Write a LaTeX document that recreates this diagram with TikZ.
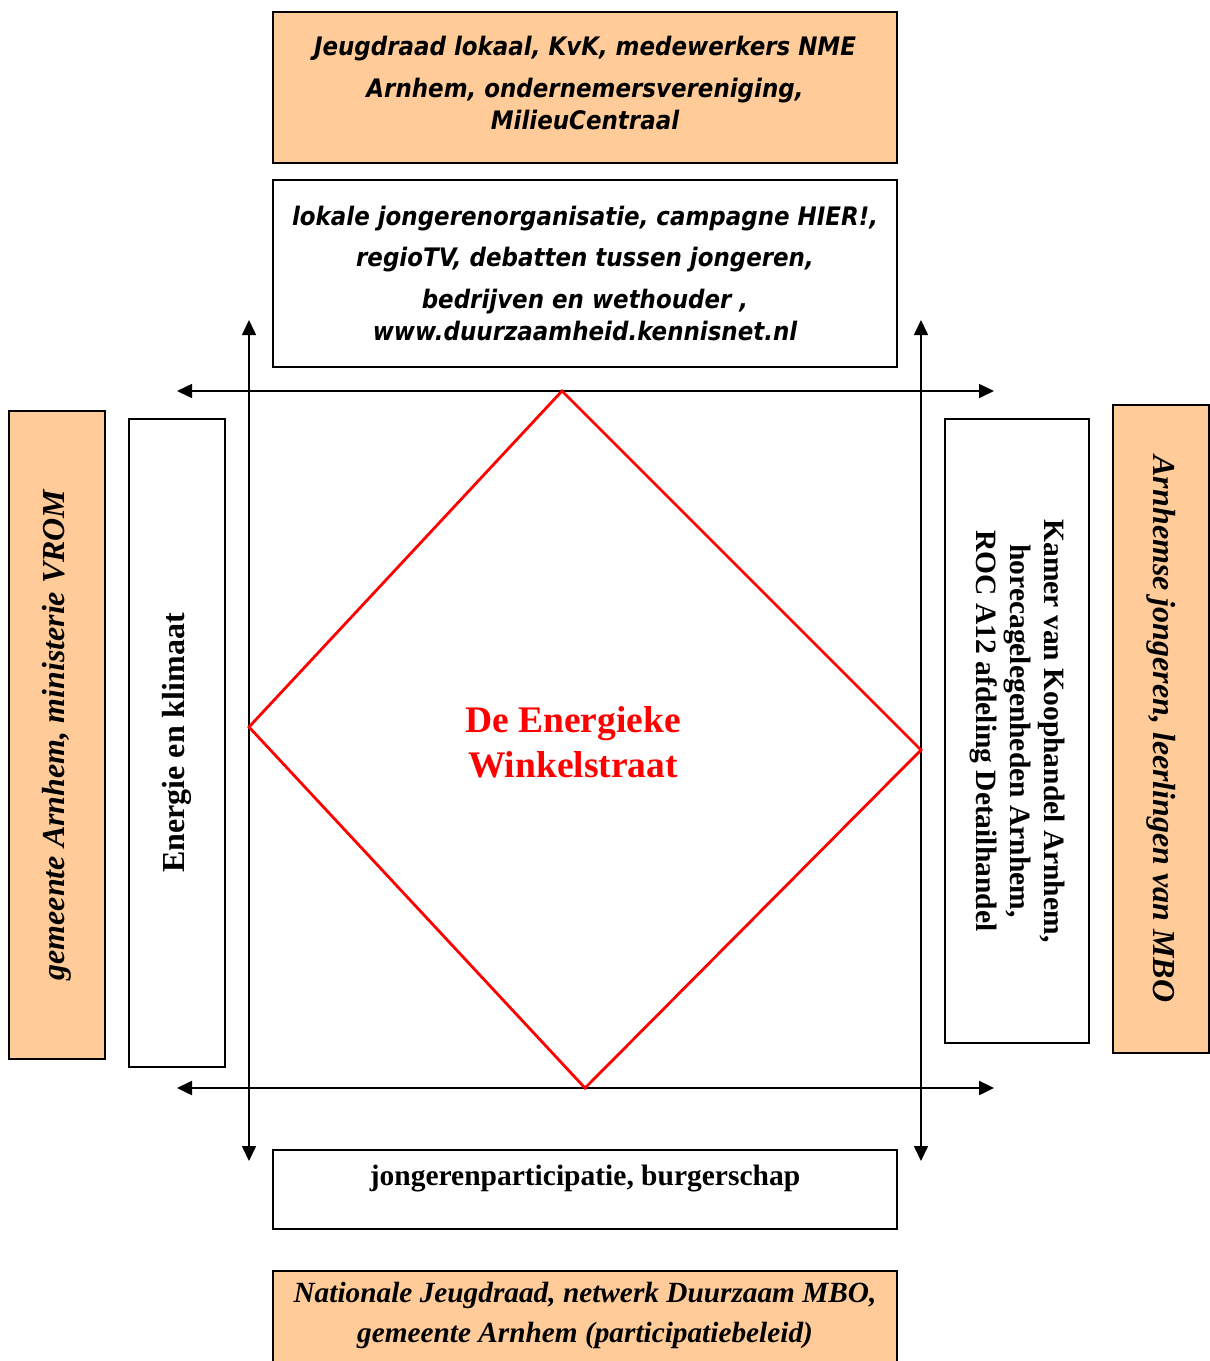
\documentclass[tikz,border=0pt]{standalone}
\usepackage{fontspec}
\setmainfont{Liberation Serif}
\newfontfamily\tahomafont[FakeStretch=0.9]{DejaVu Sans}
\usetikzlibrary{arrows.meta}
\definecolor{peach}{HTML}{FFCC99}
\definecolor{energyred}{HTML}{FF0000}

\begin{document}
\begin{tikzpicture}[x=1pt,y=-1pt,
  orangebox/.style={draw, line width=1.5pt, fill=peach, inner sep=0pt},
  whitebox/.style={draw, line width=1.5pt, fill=white, inner sep=0pt},
  axis/.style={line width=1.6pt, {Triangle[length=15pt,width=14pt]}-{Triangle[length=15pt,width=14pt]}},
  sanstext/.style={font=\tahomafont\bfseries\itshape\fontsize{25.5}{32}\selectfont, align=center},
  seriftext/.style={font=\bfseries\fontsize{29.5}{34}\selectfont, align=center},
  serifital/.style={font=\bfseries\itshape\fontsize{32}{40}\selectfont, align=center}]
\useasboundingbox (0,0) rectangle (1210,1361);

% outer partners
\node[orangebox, minimum width=624, minimum height=151, sanstext, text depth=9pt] (partnerstop) at (585,87.5)
  {Jeugdraad lokaal, KvK, medewerkers NME\\[10pt]Arnhem, ondernemersvereniging,\\MilieuCentraal};
\node[orangebox, rotate=90, minimum width=648, minimum height=96, serifital] (partnersleft) at (57,735)
  {gemeente Arnhem, ministerie VROM};
\node[orangebox, rotate=-90, minimum width=648, minimum height=96, serifital] (partnersright) at (1161,729)
  {Arnhemse jongeren, leerlingen van MBO};
\node[orangebox, minimum width=624, minimum height=110, anchor=north] (partnersbottom) at (585,1270) {};
\node[serifital, font=\bfseries\itshape\fontsize{29.3}{40}\selectfont] (partnersbottomtxt) at ([yshift=-45pt]partnersbottom.north)
  {Nationale Jeugdraad, netwerk Duurzaam MBO,\\gemeente Arnhem (participatiebeleid)};

% inner themes
\node[whitebox, minimum width=624, minimum height=187, sanstext] (themetop) at (585,273.5)
  {lokale jongerenorganisatie, campagne HIER!,\\[9pt]regioTV, debatten tussen jongeren,\\[10pt]bedrijven en wethouder ,\\www.duurzaamheid.kennisnet.nl};
\node[whitebox, rotate=90, minimum width=648, minimum height=96, seriftext, font=\bfseries\fontsize{32}{34}\selectfont] (themeleft) at (177,743)
  {Energie en klimaat};
\node[whitebox, rotate=-90, minimum width=624, minimum height=144, seriftext] (themeright) at (1017,731)
  {Kamer van Koophandel Arnhem,\\horecagelegenheden Arnhem,\\ROC A12 afdeling Detailhandel};
\node[whitebox, minimum width=624, minimum height=79] (themebottom) at (585,1189.5) {};
\node[seriftext] (themebottomtxt) at ([yshift=-29pt]themebottom.north)
  {jongerenparticipatie, burgerschap};

% axes
\coordinate (topleft) at (177,391);
\coordinate (topright) at (994,391);
\coordinate (botleft) at (177,1088);
\coordinate (botright) at (994,1088);
\coordinate (leftup) at (249,320);
\coordinate (leftdown) at (249,1161);
\coordinate (rightup) at (921,320);
\coordinate (rightdown) at (921,1161);
\draw[axis] (topleft) -- (topright);
\draw[axis, line width=2.4pt] (botleft) -- (botright);
\draw[axis] (leftup) -- (leftdown);
\draw[axis] (rightup) -- (rightdown);

% diamond
\coordinate (dtop) at (562,391);
\coordinate (dright) at (921,750);
\coordinate (dbottom) at (585,1088);
\coordinate (dleft) at (249,727);
\draw[energyred, line width=2.8pt] (dtop) -- (dright) -- (dbottom) -- (dleft) -- cycle;
\node[font=\bfseries\fontsize{37.5}{45}\selectfont, text=energyred, align=center] (winkelstraat) at (573,742)
  {De Energieke\\Winkelstraat};

\end{tikzpicture}
\end{document}
